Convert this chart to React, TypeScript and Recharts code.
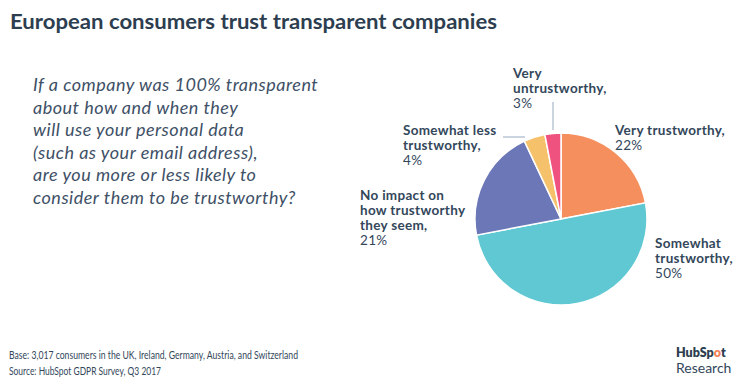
import React from "react";
import { PieChart, Pie, Cell } from "recharts";

const categories = [
  "Very trustworthy",
  "Somewhat trustworthy",
  "No impact on how trustworthy they seem",
  "Somewhat less trustworthy",
  "Very untrustworthy",
];
const shares = [22, 50, 21, 4, 3];
const labelLines: string[][] = [
  ["Very trustworthy,"],
  ["Somewhat", "trustworthy,"],
  ["No impact on", "how trustworthy", "they seem,"],
  ["Somewhat less", "trustworthy,"],
  ["Very", "untrustworthy,"],
];
const colors = ["#F5905E", "#5FC8D3", "#6C77B8", "#F5C26B", "#F0527F"];

const title = "European consumers trust transparent companies";
const question = [
  "If a company was 100% transparent",
  "about how and when they",
  "will use your personal data",
  "(such as your email address),",
  "are you more or less likely to",
  "consider them to be trustworthy?",
];
const footer = [
  "Base: 3,017 consumers in the UK, Ireland, Germany, Austria, and Switzerland",
  "Source: HubSpot GDPR Survey, Q3 2017",
];

const data = categories.map((name, i) => ({ name, value: shares[i], lines: labelLines[i] }));

// label layout: offset of the first text line (left, middle) from the pie center
const LABEL_LAYOUT = [
  { dx: 54, dy: -89, leader: null },
  { dx: 94, dy: 24, leader: null },
  { dx: -201, dy: -24, leader: null },
  { dx: -158, dy: -89, leader: { x1: -58, y1: -82, x2: -36, y2: -82 } },
  { dx: -48, dy: -146, leader: { x1: -8, y1: -117, x2: -8, y2: -89 } },
];

const TEXT = "#33475B";
const FONT = "Lato, 'Open Sans', sans-serif";

const renderLabel = (props: any) => {
  const { cx, cy, index, payload } = props;
  const lay = LABEL_LAYOUT[index];
  const lines: string[] = payload.lines ?? payload.payload?.lines ?? [];
  const x = cx + lay.dx;
  const y = cy + lay.dy;
  const lh = 15;
  const all = [...lines, `${shares[index]}%`];
  return (
    <g key={`lbl-${index}`}>
      {lay.leader && (
        <line
          x1={cx + lay.leader.x1}
          y1={cy + lay.leader.y1}
          x2={cx + lay.leader.x2}
          y2={cy + lay.leader.y2}
          stroke="#A9B8C8"
          strokeWidth={1.2}
        />
      )}
      {all.map((l, i) => (
        <text
          key={i}
          x={x}
          y={y + i * lh + 5}
          fontFamily={FONT}
          fontSize={13.5}
          letterSpacing={0.3}
          fill={TEXT}
          fontWeight={i < lines.length ? 700 : 400}
        >
          {l}
        </text>
      ))}
    </g>
  );
};

export default function App() {
  return (
    <div
      style={{
        position: "absolute",
        left: 0,
        top: 0,
        width: 750,
        height: 385,
        background: "#fff",
        fontFamily: FONT,
        overflow: "hidden",
      }}
    >
      <svg width={750} height={385} style={{ position: "absolute", left: 0, top: 0 }}>
        <text
          x={10}
          y={29}
          fontFamily={FONT}
          fontWeight={700}
          fontSize={21}
          fill="#2D3E50"
          textLength={487}
          lengthAdjust="spacingAndGlyphs"
        >
          {title}
        </text>
        {question.map((q, i) => (
          <text
            key={i}
            x={33}
            y={91 + i * 22.6}
            fontFamily={FONT}
            fontStyle="italic"
            fontWeight={400}
            fontSize={18}
            letterSpacing={0.5}
            fill="#3E5066"
          >
            {q}
          </text>
        ))}
        {footer.map((f, i) => (
          <text
            key={i}
            x={9}
            y={359 + i * 16}
            fontFamily={FONT}
            fontSize={11}
            fill={TEXT}
            textLength={i === 0 ? 289 : 152}
            lengthAdjust="spacingAndGlyphs"
          >
            {f}
          </text>
        ))}
        <text x={676} y={357} fontFamily={FONT} fontWeight={800} fontSize={12.5} fill="#2D3E50">
          HubSp
          <tspan fill="#F5815A">o</tspan>
          t
        </text>
        <text x={676} y={373} fontFamily={FONT} fontSize={14} fill={TEXT}>
          Research
        </text>
      </svg>
      <div style={{ position: "absolute", left: 0, top: 0 }}>
        <PieChart width={750} height={385} margin={{ top: 0, right: 0, bottom: 0, left: 0 }}>
          <Pie
            data={data}
            dataKey="value"
            nameKey="name"
            cx={561}
            cy={219}
            outerRadius={86}
            startAngle={90}
            endAngle={-270}
            stroke="#ffffff"
            strokeWidth={1.5}
            isAnimationActive={false}
            label={renderLabel}
            labelLine={false}
          >
            {data.map((d, i) => (
              <Cell key={d.name} fill={colors[i]} />
            ))}
          </Pie>
        </PieChart>
      </div>
    </div>
  );
}
